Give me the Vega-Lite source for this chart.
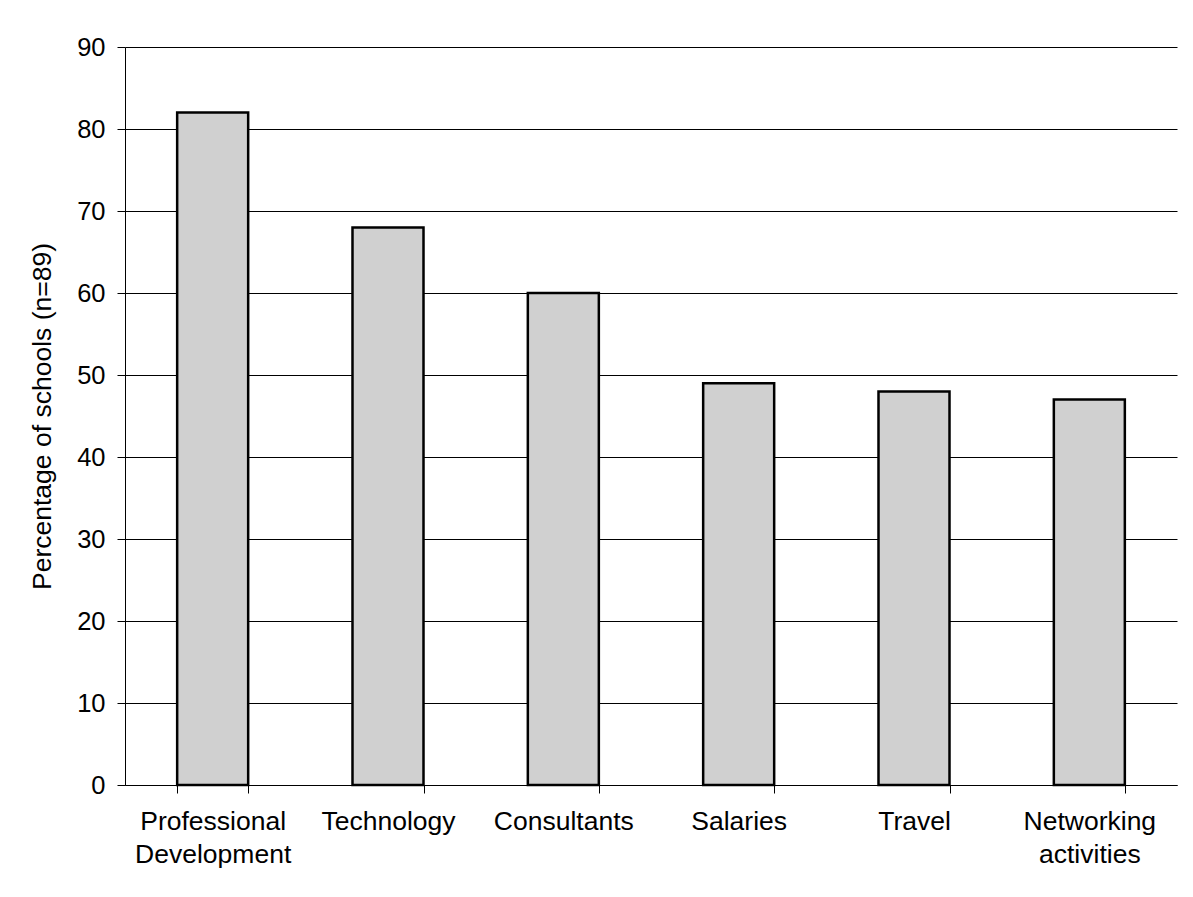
{
  "$schema": "https://vega.github.io/schema/vega-lite/v6.json",
  "width": 1052,
  "height": 738,
  "autosize": {"type": "none"},
  "padding": {"left": 125, "top": 47, "right": 16, "bottom": 112},
  "background": "white",
  "data": {
    "values": [
      {"category": "Professional Development", "pct": 82},
      {"category": "Technology", "pct": 68},
      {"category": "Consultants", "pct": 60},
      {"category": "Salaries", "pct": 49},
      {"category": "Travel", "pct": 48},
      {"category": "Networking activities", "pct": 47}
    ]
  },
  "config": {
    "view": {"stroke": null},
    "font": "Liberation Sans",
    "axis": {"labelFont": "Liberation Sans", "titleFont": "Liberation Sans", "labelColor": "#000", "titleColor": "#000"}
  },
  "mark": {"type": "bar", "fill": "#d0d0d0", "stroke": "#000", "strokeWidth": 2.5},
  "encoding": {
    "x": {
      "field": "category",
      "type": "nominal",
      "sort": null,
      "scale": {"paddingInner": 0.595, "paddingOuter": 0.2975},
      "axis": {
        "title": null,
        "labelAngle": 0,
        "labelFontSize": 26.5,
        "labelExpr": "split(datum.label, ' ')",
        "labelLineHeight": 33,
        "labelPadding": 15,
        "tickBand": "extent",
        "tickSize": 8,
        "tickColor": "#000",
        "tickWidth": 1,
        "domainColor": "#000",
        "domainWidth": 1,
        "labelBaseline": "top"
      }
    },
    "y": {
      "field": "pct",
      "type": "quantitative",
      "scale": {"domain": [0, 90], "nice": false},
      "axis": {
        "title": "Percentage of schools (n=89)",
        "titleFontSize": 26.5,
        "titleFontWeight": "normal",
        "titlePadding": 20,
        "values": [0, 10, 20, 30, 40, 50, 60, 70, 80, 90],
        "labelFontSize": 25.5,
        "labelPadding": 12,
        "tickSize": 8,
        "tickColor": "#000",
        "tickWidth": 1,
        "domainColor": "#000",
        "domainWidth": 1,
        "grid": true,
        "gridColor": "#000",
        "gridWidth": 1
      }
    }
  }
}
